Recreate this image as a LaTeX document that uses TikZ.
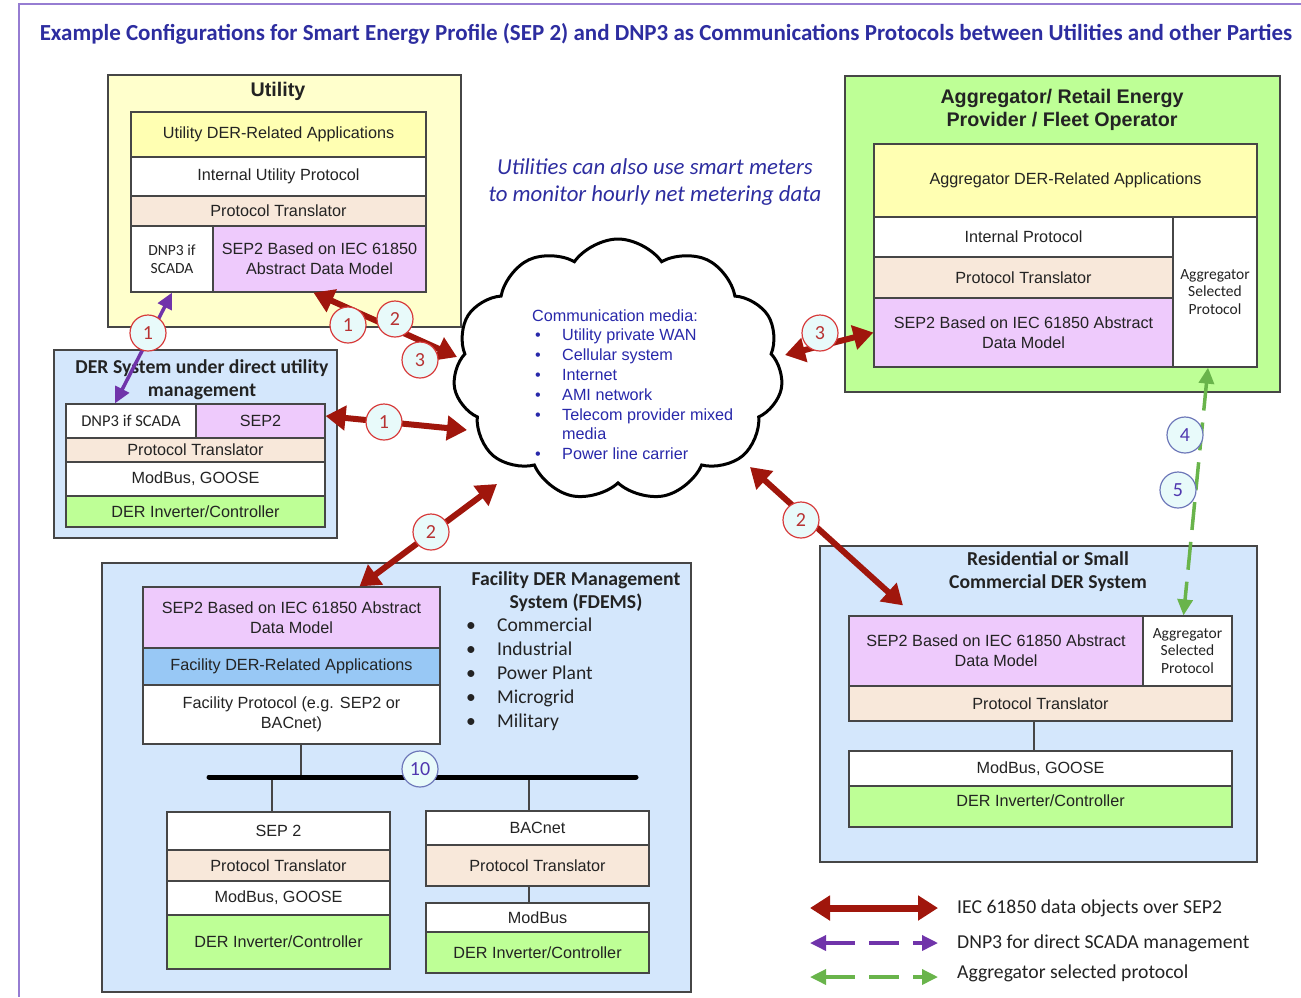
\documentclass[tikz,border=0pt]{standalone}
\usepackage{fontspec}
\setmainfont{Liberation Sans}
\newfontfamily\carlito{Carlito}
\usetikzlibrary{arrows.meta,shapes.symbols}

\definecolor{titleblue}{RGB}{45,45,160}
\definecolor{mediablue}{RGB}{40,40,170}
\definecolor{framepurple}{RGB}{150,125,210}
\definecolor{utilyellow}{RGB}{255,255,204}
\definecolor{appyellow}{RGB}{255,255,178}
\definecolor{derblue}{RGB}{212,231,252}
\definecolor{aggreen}{RGB}{190,255,150}
\definecolor{transbeige}{RGB}{248,232,218}
\definecolor{seppink}{RGB}{238,202,252}
\definecolor{facblue}{RGB}{152,200,245}
\definecolor{boxline}{RGB}{70,70,70}
\definecolor{sepred}{RGB}{160,22,12}
\definecolor{scadapurple}{RGB}{112,52,170}
\definecolor{aggline}{RGB}{105,180,75}
\definecolor{tagred}{RGB}{215,60,60}
\definecolor{tagfill}{RGB}{232,250,250}
\definecolor{tagblue}{RGB}{110,120,185}
\definecolor{tagtext}{RGB}{80,55,175}
\definecolor{inktext}{RGB}{35,35,35}

\newcommand{\mbul}{\hspace*{3pt}\makebox[27pt][l]{\textbullet}}
\newcommand{\fbul}{\makebox[31pt][l]{\textbullet}}

\begin{document}
\begin{tikzpicture}[x=1pt, y=-1pt, font=\fontsize{16.2pt}{20pt}\selectfont, text=inktext,
	panel/.style={draw=boxline, line width=1.6pt},
	layer/.style={draw=boxline, line width=1.2pt, inner sep=2pt, align=center},
	boxtitle/.style={font=\bfseries\fontsize{19.7pt}{23pt}\selectfont, align=center},
	cbtitle/.style={font=\carlito\bfseries\fontsize{19.7pt}{23pt}\selectfont, align=center},
	smalltxt/.style={font=\carlito\fontsize{15.5pt}{17.5pt}\selectfont},
	sepflow/.style={draw=sepred, line width=6pt, {Triangle[width=24pt,length=20pt]}-{Triangle[width=24pt,length=20pt]}},
	scadaflow/.style={draw=scadapurple, line width=3.5pt, {Triangle[width=15pt,length=16pt]}-{Triangle[width=15pt,length=16pt]}},
	aggflow/.style={draw=aggline, line width=3.5pt, dash pattern=on 28pt off 12pt, {Triangle[width=15pt,length=16pt]}-{Triangle[width=15pt,length=16pt]}},
	redtag/.style={circle, draw=tagred, line width=1.2pt, fill=tagfill, minimum size=36pt, inner sep=0pt, text=tagred!85!black, font=\carlito\fontsize{20pt}{20pt}\selectfont},
	bluetag/.style={redtag, draw=tagblue, text=tagtext}]
	\useasboundingbox (0,0) rectangle (1301,997);
	\draw[framepurple, line width=1.5pt] (1301,4) -- (19,4) -- (19,997);

	\node[font=\carlito\bfseries\fontsize{23pt}{26pt}\selectfont, text=titleblue] (title) at (666,34) {Example Configurations for Smart Energy Profile (SEP 2) and DNP3 as Communications Protocols between Utilities and other Parties};
	\node[font=\carlito\itshape\fontsize{22.8pt}{27pt}\selectfont, text=titleblue, align=center] (note) at (655,182) {Utilities can also use smart meters\\to monitor hourly net metering data};

	% utility
	\node[panel, fill=utilyellow, minimum width=353, minimum height=252] (util) at (284.5,201) {};
	\node[boxtitle] (utilname) at (278,91) {Utility};
	\node[layer, fill=appyellow, minimum width=295, minimum height=45] (uapps) at (278.5,134.5) {Utility DER-Related Applications};
	\node[layer, fill=white, minimum width=295, minimum height=39] (uint) at (278.5,176.5) {Internal Utility Protocol};
	\node[layer, fill=transbeige, minimum width=295, minimum height=30] (utrans) at (278.5,211) {Protocol Translator};
	\node[layer, smalltxt, fill=white, minimum width=82, minimum height=66] (udnp) at (172,259) {DNP3 if\\SCADA};
	\node[layer, fill=seppink, minimum width=213, minimum height=66] (usep) at (319.5,259) {SEP2 Based on IEC 61850\\Abstract Data Model};

	% DER system
	\node[panel, fill=derblue, minimum width=283, minimum height=188] (der) at (195.5,444) {};
	\node[cbtitle] (dername) at (202,379.5) {DER System under direct utility\\management};
	\node[layer, fill=white, minimum width=130, minimum height=34, font=\carlito\fontsize{16.5pt}{17pt}\selectfont] (ddnp) at (131,421) {DNP3 if SCADA};
	\node[layer, fill=seppink, minimum width=129, minimum height=34] (dsep) at (260.5,421) {SEP2};
	\node[layer, fill=transbeige, minimum width=259, minimum height=24] (dtrans) at (195.5,450) {Protocol Translator};
	\node[layer, fill=white, minimum width=259, minimum height=34] (dmod) at (195.5,479) {ModBus, GOOSE};
	\node[layer, fill=aggreen, minimum width=259, minimum height=31] (dinv) at (195.5,511.5) {DER Inverter/Controller};

	% aggregator
	\node[panel, fill=aggreen, minimum width=435, minimum height=316] (agg) at (1062.5,234) {};
	\node[boxtitle] (aggname) at (1062,109.5) {Aggregator/ Retail Energy\\Provider / Fleet Operator};
	\node[layer, fill=appyellow, minimum width=383, minimum height=73] (aapps) at (1065.5,180.5) {Aggregator DER-Related Applications};
	\node[layer, fill=white, minimum width=299, minimum height=40] (aint) at (1023.5,237) {Internal Protocol};
	\node[layer, fill=transbeige, minimum width=299, minimum height=41] (atrans) at (1023.5,277.5) {Protocol Translator};
	\node[layer, fill=seppink, minimum width=299, minimum height=69] (asep) at (1023.5,332.5) {SEP2 Based on IEC 61850 Abstract\\Data Model};
	\node[layer, smalltxt, fill=white, minimum width=84, minimum height=150] (asel) at (1215,292) {Aggregator\\Selected\\Protocol};

	% residential
	\node[panel, fill=derblue, minimum width=437, minimum height=316] (res) at (1038.5,704) {};
	\node[cbtitle] (resname) at (1048,571.5) {Residential or Small\\Commercial DER System};
	\node[layer, fill=seppink, minimum width=294, minimum height=70] (rsep) at (996,651) {SEP2 Based on IEC 61850 Abstract\\Data Model};
	\node[layer, smalltxt, fill=white, minimum width=89, minimum height=70] (rsel) at (1187.5,651) {Aggregator\\Selected\\Protocol};
	\node[layer, fill=transbeige, minimum width=383, minimum height=35] (rtrans) at (1040.5,703.5) {Protocol Translator};
	\node[layer, fill=white, minimum width=383, minimum height=35] (rmod) at (1040.5,768.5) {ModBus, GOOSE};
	\node[layer, fill=aggreen, minimum width=383, minimum height=41, text depth=12pt] (rinv) at (1040.5,806.5) {DER Inverter/Controller};
	\draw[boxline, line width=2pt] ([xshift=-7]rtrans.south) -- ([xshift=-7]rmod.north);

	% facility
	\node[panel, fill=derblue, minimum width=589, minimum height=429] (fac) at (396.5,777.5) {};
	\node[cbtitle] (facname) at (576,591.5) {Facility DER Management\\System (FDEMS)};
	\node[anchor=west, align=left, inner sep=0pt, font=\carlito\fontsize{19.6pt}{24pt}\selectfont] (faclist) at (466,674) {\fbul Commercial\\\fbul Industrial\\\fbul Power Plant\\\fbul Microgrid\\\fbul Military};
	\node[layer, fill=seppink, minimum width=297, minimum height=61] (fsep) at (291.5,617.5) {SEP2 Based on IEC 61850 Abstract\\Data Model};
	\node[layer, fill=facblue, minimum width=297, minimum height=37] (fapps) at (291.5,666.5) {Facility DER-Related Applications};
	\node[layer, fill=white, minimum width=297, minimum height=59] (fprot) at (291.5,714.5) {Facility Protocol (e.g. SEP2 or\\BACnet)};

	\node[layer, fill=white, minimum width=223, minimum height=38] (lsep) at (278.5,831) {SEP 2};
	\node[layer, fill=transbeige, minimum width=223, minimum height=31] (ltrans) at (278.5,865.5) {Protocol Translator};
	\node[layer, fill=white, minimum width=223, minimum height=34] (lmod) at (278.5,898) {ModBus, GOOSE};
	\node[layer, fill=aggreen, minimum width=223, minimum height=54] (linv) at (278.5,942) {DER Inverter/Controller};

	\node[layer, fill=white, minimum width=223, minimum height=34] (bbac) at (537.5,828) {BACnet};
	\node[layer, fill=transbeige, minimum width=223, minimum height=41] (btrans) at (537.5,865.5) {Protocol Translator};
	\node[layer, fill=white, minimum width=223, minimum height=29] (bmod) at (537.5,917.5) {ModBus};
	\node[layer, fill=aggreen, minimum width=223, minimum height=41] (binv) at (537.5,952.5) {DER Inverter/Controller};

	\coordinate (busL) at (209,777);
	\coordinate (busR) at (636,777);
	\coordinate (tapA) at (301,777);
	\coordinate (tapB) at (272,777);
	\coordinate (tapC) at (529,777);
	\draw[boxline, line width=1.5pt] (tapA) -- (tapA |- fprot.south)
		(tapB) -- (tapB |- lsep.north)
		(tapC) -- (tapC |- bbac.north)
		(btrans.south -| tapC) -- (bmod.north -| tapC);
	\draw[black, line width=5pt, line cap=round] (busL) -- (busR);

	% network
	\node[cloud, draw, line width=3pt, fill=white, cloud puffs=11, cloud puff arc=110, minimum width=330, minimum height=262] (cloud) at (618,370) {};
	\node[anchor=west, align=left, inner sep=0pt, text=mediablue, font=\fontsize{16.2pt}{19.8pt}\selectfont] (media) at (532,384.5) {Communication media:\\\mbul Utility private WAN\\\mbul Cellular system\\\mbul Internet\\\mbul AMI network\\\mbul Telecom provider mixed\\\hspace*{30pt}media\\\mbul Power line carrier};

	\path ([xshift=-6]usep.south) edge[sepflow] ([shift={(-161,-13)}]cloud.center)
		([yshift=5]dsep.east) edge[sepflow] ([shift={(-151,60)}]cloud.center)
		([xshift=68]fsep.north) edge[sepflow] ([shift={(-121,114)}]cloud.center)
		([xshift=-93,yshift=10]rsep.north) edge[sepflow] ([shift={(132,97)}]cloud.center)
		(asep.west) edge[sepflow] ([shift={(167,-15)}]cloud.center)
		([xshift=-16]ddnp.north) edge[scadaflow] (udnp.south)
		([xshift=-7]asel.south) edge[aggflow] ([xshift=-4]rsel.north);

	\node[redtag] (tagU1) at (348,325) {1};
	\node[redtag] (tagU2) at (395,319) {2};
	\node[redtag] (tagU3) at (420,360) {3};
	\node[redtag] (tagP1) at (148,333) {1};
	\node[redtag] (tagD1) at (384,422) {1};
	\node[redtag] (tagF2) at (431,532) {2};
	\node[redtag] (tagR2) at (801,520) {2};
	\node[redtag] (tagA3) at (820,333) {3};
	\node[bluetag] (tag4) at (1185,435) {4};
	\node[bluetag] (tag5) at (1178,490) {5};
	\node[bluetag] (tag10) at (420,769) {10};

	% legend
	\coordinate (lgSa) at (810,908);
	\coordinate (lgSb) at (938,908);
	\coordinate (lgPa) at (810,943);
	\coordinate (lgPb) at (938,943);
	\coordinate (lgGa) at (810,977);
	\coordinate (lgGb) at (938,977);
	\path (lgSa) edge[sepflow, line width=7pt] (lgSb)
		(lgPa) edge[scadaflow, dash pattern=on 30pt off 14pt] (lgPb)
		(lgGa) edge[aggflow, dash pattern=on 30pt off 14pt] (lgGb);
	\node[anchor=west, inner sep=0pt, font=\carlito\fontsize{19.7pt}{23pt}\selectfont] (legsep) at (957,908) {IEC 61850 data objects over SEP2};
	\node[anchor=west, inner sep=0pt, font=\carlito\fontsize{19.7pt}{23pt}\selectfont] (legscada) at (957,943) {DNP3 for direct SCADA management};
	\node[anchor=west, inner sep=0pt, font=\carlito\fontsize{19.7pt}{23pt}\selectfont] (legagg) at (957,973) {Aggregator selected protocol};
\end{tikzpicture}
\end{document}
